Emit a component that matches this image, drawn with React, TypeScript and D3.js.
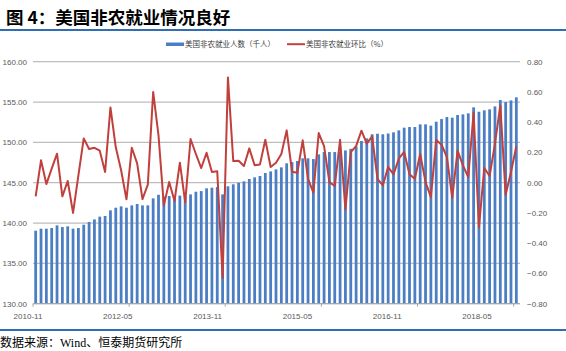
import React from "react";
import * as d3 from "d3";

const employment = [
  139.05, 139.3, 139.3, 139.38, 139.71, 139.5, 139.59, 139.3, 139.38, 139.79,
  140.12, 140.45, 140.79, 140.87, 141.57, 141.9, 142.07, 141.9, 142.19, 142.36,
  142.19, 142.19, 143.06, 143.5, 143.3, 143.35, 143.2, 143.4, 143.3, 143.55,
  143.88, 143.96, 144.3, 144.38, 144.46, 143.55, 144.55, 144.8, 145.0, 145.17,
  145.46, 145.66, 145.83, 146.2, 146.4, 146.65, 146.9, 147.4, 147.56, 147.69,
  148.02, 148.02, 147.93, 148.51, 148.8, 148.8, 148.8, 148.84, 149.0, 149.2,
  149.5, 150.17, 150.5, 151.0, 151.07, 151.0, 151.1, 151.24, 151.49, 151.82,
  151.9, 151.9, 152.23, 152.23, 152.07, 152.56, 152.89, 153.14, 153.06, 153.39,
  153.47, 153.6, 154.34, 153.8, 153.97, 154.09, 154.46, 155.25, 155.0, 155.2,
  155.58,
];

const momChange = [
  -0.09, 0.148, -0.009, 0.093, 0.192, -0.09, 0.011, -0.2, 0.048, 0.293,
  0.223, 0.231, 0.212, 0.071, 0.498, 0.234, 0.082, -0.11, 0.231, 0.128,
  -0.108, -0.013, 0.6, 0.313, -0.15, 0.004, -0.121, 0.132, -0.13, 0.289,
  0.19, 0.097, 0.198, 0.071, 0.075, -0.63, 0.696, 0.143, 0.145, 0.11,
  0.227, 0.115, 0.121, 0.284, 0.104, 0.132, 0.19, 0.346, 0.073, 0.066,
  0.28, 0.026, -0.066, 0.328, 0.242, 0.004, -0.022, 0.284, -0.176, 0.203,
  0.242, 0.344, 0.258, 0.306, 0.026, -0.018, 0.104, 0.055, 0.159, 0.203,
  0.055, 0.026, 0.19, 0.004, -0.095, 0.282, 0.251, 0.17, -0.101, 0.212,
  0.115, 0.037, 0.463, -0.295, 0.097, 0.044, 0.258, 0.511, -0.079, 0.071,
  0.24,
];

const months = d3
  .utcMonths(new Date(Date.UTC(2010, 10, 1)), new Date(Date.UTC(2018, 5, 1)))
  .map(d3.utcFormat("%Y-%m"));

const xTickLabels = ["2010-11", "2012-05", "2013-11", "2015-05", "2016-11", "2018-05"];
const leftTicks = [130, 135, 140, 145, 150, 155, 160];
const rightTicks = [-0.8, -0.6, -0.4, -0.2, 0, 0.2, 0.4, 0.6, 0.8];

const W = 566;
const H = 351;
const plotLeft = 33;
const plotRight = 519;
const plotTop = 61.7;
const plotBottom = 303.7;

const BLUE = "#4b7ec4";
const RED = "#c0403d";
const TEXT = "#595959";

export default function App() {
  const x = d3.scaleBand<string>().domain(months).range([plotLeft, plotRight]).paddingInner(0.48).paddingOuter(0.24);
  const step = x.step();
  const yL = d3.scaleLinear().domain([130, 160]).range([plotBottom, plotTop]);
  const yR = d3.scaleLinear().domain([-0.8, 0.8]).range([plotBottom, plotTop]);
  const tickX = d3.scaleLinear().domain([0, months.length - 1]).range([plotLeft, plotLeft + step * (months.length - 1)]);
  const labelX = d3.scaleLinear().domain([0, months.length - 1]).range([28, 477]);

  const cx = (i: number) => (x(months[i]) as number) + x.bandwidth() / 2;
  const line = d3
    .line<number>()
    .x((_, i) => cx(i))
    .y((d) => yR(d));

  const font = "'Liberation Sans', Arial, 'Noto Sans CJK SC', sans-serif";
  const cjk = "'Noto Sans CJK SC', sans-serif";

  return (
    <svg width={W} height={H} style={{ position: "absolute", left: 0, top: 0, background: "#fff" }}>
      {/* title */}
      <text x={6} y={24} fontFamily={cjk} fontWeight="bold" fontSize={17.5} fill="#000">
        图 4：美国非农就业情况良好
      </text>
      <line x1={0} x2={W} y1={30} y2={30} stroke="#2f6db5" strokeWidth={2.2} />

      {/* legend */}
      <rect x={166} y={42.5} width={18} height={3.5} fill={BLUE} />
      <text x={185} y={47} fontFamily={cjk} fontSize={7.5} fill="#404040">
        美国非农就业人数（千人）
      </text>
      <line x1={287} x2={305} y1={44.2} y2={44.2} stroke={RED} strokeWidth={2} />
      <text x={306} y={47} fontFamily={cjk} fontSize={7.5} fill="#404040">
        美国非农就业环比（%）
      </text>

      {/* gridlines */}
      {leftTicks.map((t) => (
        <line key={"g" + t} x1={plotLeft} x2={plotRight + 1} y1={yL(t)} y2={yL(t)} stroke="#bdbdbd" strokeWidth={1.2} />
      ))}

      {/* bars */}
      {employment.map((v, i) => (
        <rect
          key={"b" + i}
          x={x(months[i])}
          y={yL(v)}
          width={x.bandwidth()}
          height={yL(130) - yL(v)}
          fill={BLUE}
        />
      ))}

      {/* x axis */}
      <line x1={plotLeft} x2={plotRight + 1} y1={plotBottom} y2={plotBottom} stroke="#a6a6a6" strokeWidth={1} />
      {xTickLabels.map((lab) => {
        const i = months.indexOf(lab);
        return (
          <g key={"xt" + lab}>
            <line x1={tickX(i)} x2={tickX(i)} y1={plotBottom} y2={plotBottom + 3} stroke="#a6a6a6" />
            <text x={labelX(i)} y={319} textAnchor="middle" fontFamily={font} fontSize={8} fill={TEXT}>
              {lab}
            </text>
          </g>
        );
      })}

      {/* line */}
      <path d={line(momChange) || ""} fill="none" stroke={RED} strokeWidth={2} strokeLinejoin="round" />

      {/* left axis labels */}
      {leftTicks.map((t) => (
        <text key={"l" + t} x={27} y={yL(t) + 3} textAnchor="end" fontFamily={font} fontSize={8} fill={TEXT}>
          {d3.format(".2f")(t)}
        </text>
      ))}
      {/* right axis labels */}
      {rightTicks.map((t) => (
        <text key={"r" + t} x={527} y={yR(t) + 3} textAnchor="start" fontFamily={font} fontSize={8} fill={TEXT}>
          {d3.format(".2f")(t)}
        </text>
      ))}

      {/* footer */}
      <line x1={0} x2={W} y1={330} y2={330} stroke="#2f6db5" strokeWidth={2.2} />
      <text x={0} y={347} fontFamily="'Liberation Serif', 'Noto Sans CJK SC', serif" fontSize={12} fill="#000">
        数据来源：Wind、恒泰期货研究所
      </text>
    </svg>
  );
}
